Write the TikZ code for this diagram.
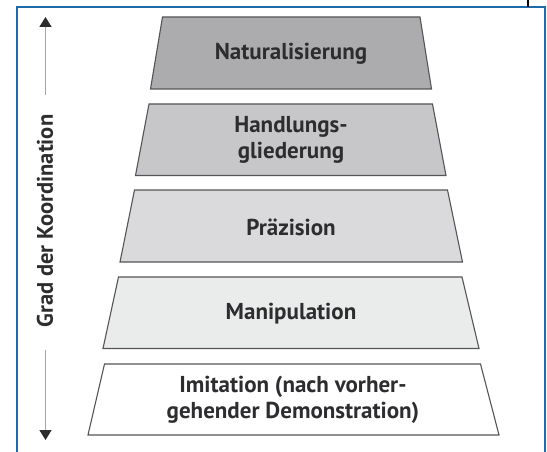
\documentclass[tikz,border=0pt]{standalone}
\usepackage{fontspec}
\setmainfont{PT Sans}
\usetikzlibrary{arrows.meta}
\definecolor{frameblue}{RGB}{28,108,170}
\definecolor{edge}{RGB}{85,85,88}
\definecolor{txt}{RGB}{45,45,48}
\definecolor{f1}{RGB}{172,172,174}
\definecolor{f2}{RGB}{199,199,201}
\definecolor{f3}{RGB}{218,218,220}
\definecolor{f4}{RGB}{234,235,235}
\tikzset{
  level/.style={draw=edge, line width=1.1pt, line join=miter},
  lbl/.style={text=txt, font=\bfseries\fontsize{23}{26}\selectfont, align=center, inner sep=0pt},
  axlbl/.style={text=txt, font=\bfseries\fontsize{22.5}{26}\selectfont, inner sep=0pt},
  axis/.style={draw=gray!70, line width=1.6pt},
}
\begin{document}
\begin{tikzpicture}[x=1pt,y=-1pt]
\useasboundingbox (0,0) rectangle (547,452);
\fill[white] (0,0) rectangle (547,452);
% frame
\draw[frameblue, line width=2pt] (16.5,460) -- (16.5,7.5) -- (544.5,7.5) -- (544.5,460);
\draw[black, line width=1.4pt] (528,0) -- (528,7);
% levels
\path[level, fill=f1] (162.5,17) -- (420,17) -- (431.5,89) -- (150.5,89) -- cycle;
\path[level, fill=f2] (149,104) -- (432.5,104) -- (446,175.5) -- (135.5,175.5) -- cycle;
\path[level, fill=f3] (134.5,190) -- (447.5,190) -- (462.5,262) -- (120,262) -- cycle;
\path[level, fill=f4] (118.5,277) -- (462,277) -- (479,348.5) -- (103,348.5) -- cycle;
\path[level, fill=white] (104.5,364) -- (480.5,364) -- (499,435) -- (88,435) -- cycle;
\node[lbl] (n1) at (291,54) {Naturalisierung};
\node[lbl] (n2) at (291,140) {Handlungs-\\gliederung};
\node[lbl] (n3) at (291,227) {Präzision};
\node[lbl] (n4) at (291,313.5) {Manipulation};
\node[lbl] (n5) at (293,399.5) {Imitation (nach vorher-\\gehender Demonstration)};
% axis
\node[axlbl, rotate=90] (ax) at (45,221) {Grad der Koordination};
\coordinate (upTip) at (45.5,17);
\coordinate (upEnd) at (45.5,95);
\coordinate (dnTip) at (45.5,440);
\coordinate (dnEnd) at (45.5,350);
\draw[axis, -{Triangle[length=10pt,width=12pt,fill=txt,color=txt]}] (upEnd) -- (upTip);
\draw[axis, -{Triangle[length=10pt,width=12pt,fill=txt,color=txt]}] (dnEnd) -- (dnTip);
\end{tikzpicture}
\end{document}
